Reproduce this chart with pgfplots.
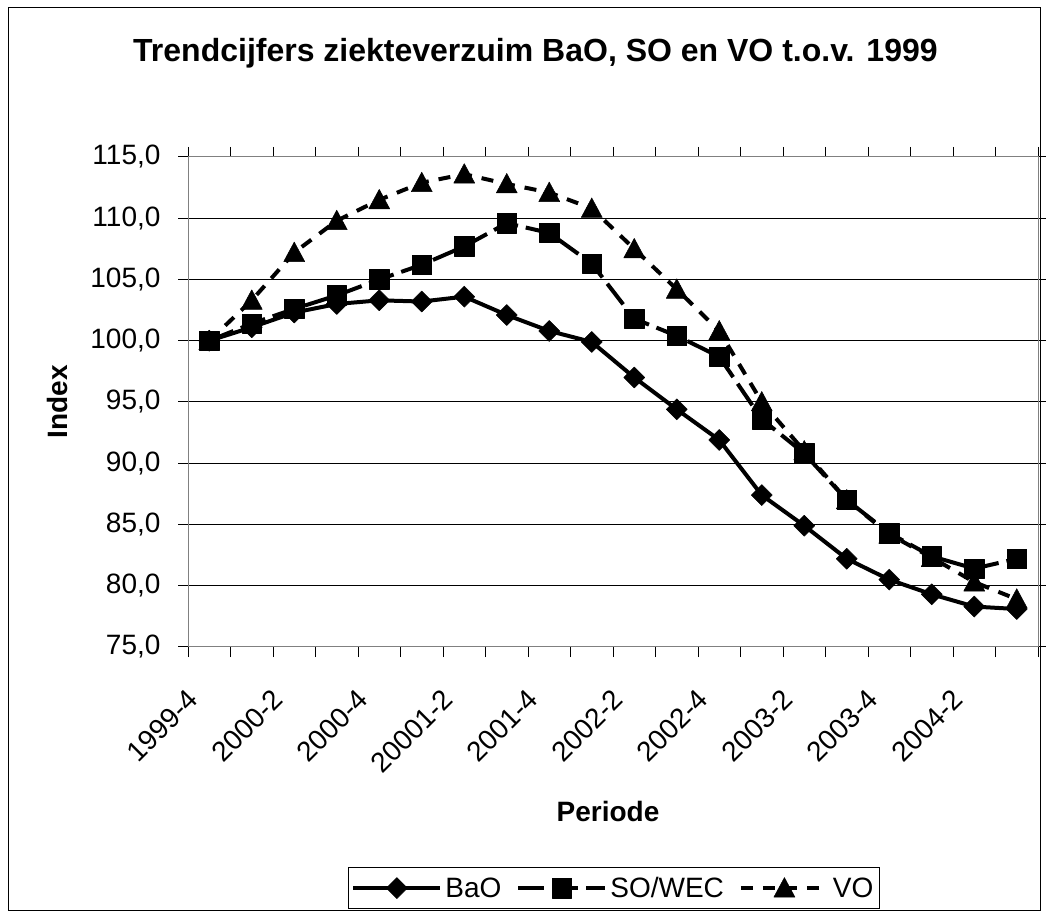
\documentclass[border=0pt]{standalone}
\usepackage{fontspec}
\setmainfont{Liberation Sans}
\usepackage{pgfplots}
\usepackage{pgfplotstable}
\pgfplotsset{compat=1.18}
\pgfdeclareplotmark{exdiamond}{%
  \pgfpathmoveto{\pgfqpoint{0pt}{\pgfplotmarksize}}%
  \pgfpathlineto{\pgfqpoint{\pgfplotmarksize}{0pt}}%
  \pgfpathlineto{\pgfqpoint{0pt}{-\pgfplotmarksize}}%
  \pgfpathlineto{\pgfqpoint{-\pgfplotmarksize}{0pt}}%
  \pgfpathclose\pgfusepathqfillstroke}
\pgfdeclareplotmark{extri}{%
  \pgfpathmoveto{\pgfqpoint{0pt}{1.05\pgfplotmarksize}}%
  \pgfpathlineto{\pgfqpoint{1.05\pgfplotmarksize}{-0.9\pgfplotmarksize}}%
  \pgfpathlineto{\pgfqpoint{-1.05\pgfplotmarksize}{-0.9\pgfplotmarksize}}%
  \pgfpathclose\pgfusepathqfillstroke}
\newcommand{\chartfont}{\fontsize{28}{34}\selectfont}
\pgfplotstableread{
x bao so vo
0 100.0 100.0 100.0
1 101.1 101.4 103.3
2 102.3 102.6 107.2
3 103.0 103.7 109.8
4 103.3 105.0 111.5
5 103.2 106.2 112.9
6 103.6 107.7 113.6
7 102.1 109.6 112.8
8 100.8 108.8 112.1
9 99.9 106.3 110.8
10 97.0 101.8 107.5
11 94.4 100.4 104.2
12 91.9 98.7 100.8
13 87.4 93.6 95.0
14 84.9 90.8 91.0
15 82.2 87.0 87.0
16 80.5 84.3 84.2
17 79.3 82.4 82.3
18 78.3 81.4 80.3
19 78.1 82.2 78.9
}\data
\begin{document}
\begin{tikzpicture}[x=1pt,y=1pt]
\useasboundingbox (0,0) rectangle (1046,912);
\draw[black, line width=1pt] (8,1) rectangle (1040,904);
\node[font=\bfseries\fontsize{32}{38}\selectfont, anchor=base west, inner sep=0pt] at (133,850) {Trendcijfers ziekteverzuim BaO, SO en VO t.o.v. 1999};
\node[font=\bfseries\chartfont, rotate=90, anchor=base, inner sep=0pt] at (67,510) {Index};
\node[font=\bfseries\chartfont, anchor=base, inner sep=0pt] at (608,90) {Periode};
\begin{axis}[
  at={(188pt,265pt)}, anchor=south west,
  scale only axis, width=850pt, height=490pt,
  xmin=-0.5, xmax=19.5, ymin=75, ymax=115,
  ytick={75,80,...,115},
  xtick={-0.5,0.5,...,19.5}, xticklabels={},
  extra x ticks={0,2,...,18},
  extra x tick labels={1999-4,2000-2,2000-4,20001-2,2001-4,2002-2,2002-4,2003-2,2003-4,2004-2},
  extra x tick style={major tick length=0pt},
  tick align=outside, major tick length=10pt,
  tick style={black, line width=1pt},
  ymajorgrids, grid style={black, line width=1pt},
  axis line style={black!50, line width=1pt},
  yticklabel style={font=\chartfont, xshift=-14pt,
    /pgf/number format/.cd, fixed, fixed zerofill, precision=1, use comma, assume math mode=true},
  xticklabel style={font=\chartfont, anchor=east, inner sep=0pt, xshift=-16pt, yshift=-48pt, rotate=45},
  legend columns=3, reverse legend,
  legend image code/.code={\draw[mark repeat=2,mark phase=2,#1] plot coordinates {(0pt,0pt) (43.5pt,0pt) (87pt,0pt)};},
  legend style={at={(0.501,-0.492)}, anchor=center, draw=black, line width=1pt, font=\chartfont,
    inner ysep=6.5pt, nodes={inner sep=3pt},
    /tikz/every even column/.append style={column sep=12pt}},
]
\addplot[black, line width=4pt, line join=round, dash pattern=on 12pt off 10pt, mark=extri, mark size=10pt, mark options={solid, line width=0.5pt}] table[x=x,y=vo] {\data};
\addlegendentry{VO}
\addplot[black, line width=4pt, line join=round, dash pattern=on 26pt off 8pt, mark=square*, mark size=9.75pt, mark options={solid, line width=0.5pt}] table[x=x,y=so] {\data};
\addlegendentry{SO/WEC}
\addplot[black, line width=4pt, line join=round, mark=exdiamond, mark size=10.5pt, mark options={solid, line width=0.5pt}] table[x=x,y=bao] {\data};
\addlegendentry{BaO}
\end{axis}
\end{tikzpicture}
\end{document}
